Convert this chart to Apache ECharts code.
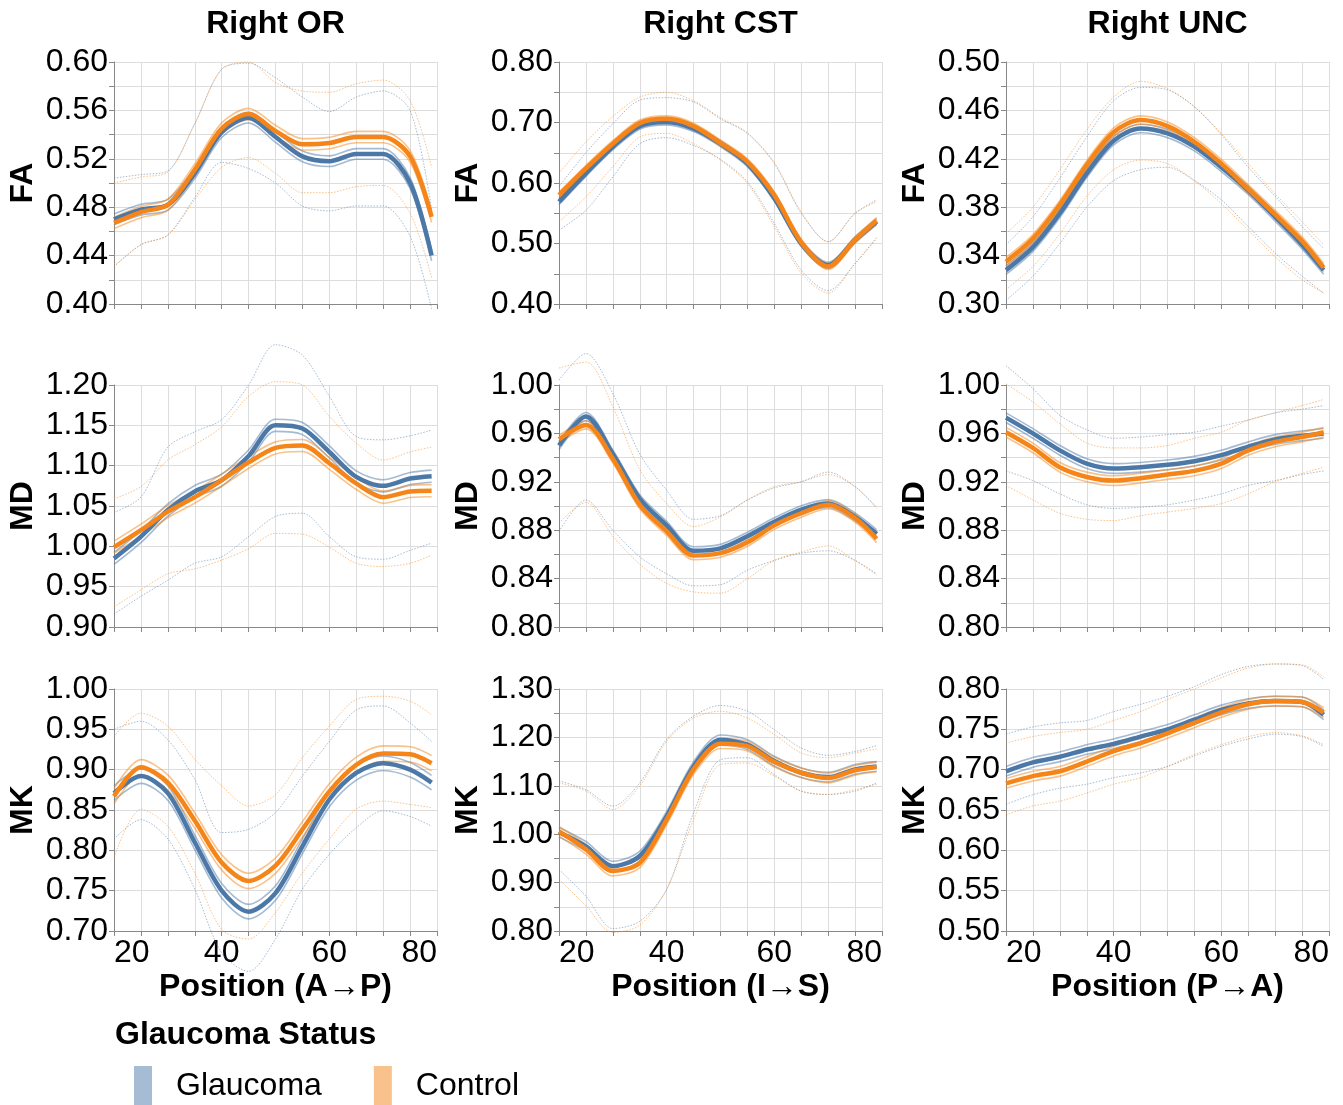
<!DOCTYPE html>
<html><head><meta charset="utf-8">
<script src="https://cdn.jsdelivr.net/npm/echarts@6/dist/echarts.min.js"></script>
<style>html,body{margin:0;padding:0;background:#fff}#c{width:1343px;height:1105px}</style>
</head><body><div id="c"></div>
<script>
// ---------- data ----------
const positions = [20, 25, 30, 35, 40, 45, 50, 55, 60, 65, 70, 75, 79];
const bundles = ['Right OR', 'Right CST', 'Right UNC'];
const metrics = ['FA', 'MD', 'MK'];
const xTitles = ['Position (A\u2192P)', 'Position (I\u2192S)', 'Position (P\u2192A)'];
const groups = ['Glaucoma', 'Control'];

// y axis per panel (row-major: FA OR, FA CST, FA UNC, MD OR, ...)
const yMin = [0.40, 0.40, 0.30, 0.90, 0.80, 0.80, 0.70, 0.80, 0.50];
const yMax = [0.60, 0.80, 0.50, 1.20, 1.00, 1.00, 1.00, 1.30, 0.80];
const yLabelStep = [0.04, 0.10, 0.04, 0.05, 0.04, 0.04, 0.05, 0.10, 0.05];
const yGridSplit = [2, 2, 2, 1, 2, 2, 1, 2, 1];
const xTickLabels = [20, 40, 60, 80];

// standard-error half widths per panel
const seGlaucoma = [0.0044, 0.005, 0.0035, 0.0075, 0.0033, 0.004, 0.009, 0.010, 0.006];
const seControl  = [0.0047, 0.005, 0.0035, 0.0075, 0.0033, 0.004, 0.0095, 0.010, 0.006];

// FA, Right OR
const faOR_G = [0.470, 0.478, 0.482, 0.508, 0.542, 0.554, 0.538, 0.522, 0.518, 0.524, 0.524, 0.500, 0.440];
const faOR_C = [0.467, 0.476, 0.482, 0.511, 0.545, 0.557, 0.543, 0.532, 0.533, 0.538, 0.538, 0.522, 0.472];
const faOR_G_hi = [0.504, 0.507, 0.510, 0.549, 0.594, 0.599, 0.587, 0.571, 0.559, 0.571, 0.576, 0.560, 0.478];
const faOR_G_lo = [0.431, 0.449, 0.457, 0.488, 0.517, 0.512, 0.500, 0.481, 0.477, 0.481, 0.481, 0.456, 0.396];
const faOR_C_hi = [0.500, 0.505, 0.509, 0.549, 0.594, 0.600, 0.583, 0.576, 0.575, 0.582, 0.585, 0.568, 0.513];
const faOR_C_lo = [0.431, 0.449, 0.457, 0.486, 0.513, 0.521, 0.508, 0.492, 0.492, 0.497, 0.498, 0.475, 0.422];
// FA, Right CST
const faCST_G = [0.569, 0.616, 0.660, 0.694, 0.701, 0.690, 0.665, 0.632, 0.575, 0.500, 0.464, 0.506, 0.536];
const faCST_C = [0.580, 0.624, 0.665, 0.699, 0.706, 0.694, 0.666, 0.635, 0.580, 0.502, 0.462, 0.506, 0.538];
const faCST_G_hi = [0.594, 0.650, 0.698, 0.737, 0.741, 0.734, 0.706, 0.682, 0.632, 0.550, 0.503, 0.550, 0.572];
const faCST_G_lo = [0.522, 0.555, 0.610, 0.665, 0.675, 0.662, 0.639, 0.602, 0.533, 0.456, 0.422, 0.467, 0.510];
const faCST_C_hi = [0.616, 0.668, 0.710, 0.742, 0.750, 0.736, 0.708, 0.683, 0.634, 0.552, 0.503, 0.550, 0.569];
const faCST_C_lo = [0.536, 0.577, 0.627, 0.676, 0.682, 0.665, 0.638, 0.599, 0.528, 0.451, 0.418, 0.467, 0.508];
// FA, Right UNC
const faUNC_G = [0.328, 0.347, 0.375, 0.408, 0.435, 0.445, 0.441, 0.430, 0.413, 0.394, 0.372, 0.349, 0.328];
const faUNC_C = [0.335, 0.354, 0.382, 0.415, 0.442, 0.452, 0.447, 0.434, 0.416, 0.395, 0.374, 0.352, 0.330];
const faUNC_G_hi = [0.349, 0.372, 0.404, 0.438, 0.468, 0.479, 0.477, 0.463, 0.440, 0.413, 0.389, 0.364, 0.346];
const faUNC_G_lo = [0.303, 0.323, 0.350, 0.380, 0.402, 0.411, 0.413, 0.402, 0.386, 0.364, 0.342, 0.323, 0.309];
const faUNC_C_hi = [0.358, 0.380, 0.411, 0.444, 0.471, 0.484, 0.478, 0.463, 0.441, 0.416, 0.391, 0.368, 0.349];
const faUNC_C_lo = [0.312, 0.331, 0.358, 0.389, 0.411, 0.419, 0.416, 0.402, 0.383, 0.361, 0.339, 0.320, 0.309];
// MD, Right OR
const mdOR_G = [0.985, 1.012, 1.045, 1.068, 1.082, 1.112, 1.150, 1.146, 1.117, 1.086, 1.075, 1.084, 1.087];
const mdOR_C = [0.999, 1.020, 1.043, 1.061, 1.082, 1.104, 1.122, 1.125, 1.103, 1.078, 1.061, 1.068, 1.069];
const mdOR_G_hi = [1.042, 1.061, 1.123, 1.142, 1.157, 1.200, 1.250, 1.237, 1.186, 1.136, 1.132, 1.137, 1.144];
const mdOR_G_lo = [0.916, 0.938, 0.958, 0.979, 0.987, 1.012, 1.037, 1.041, 1.012, 0.987, 0.984, 0.995, 1.004];
const mdOR_C_hi = [1.059, 1.074, 1.107, 1.126, 1.148, 1.186, 1.204, 1.200, 1.161, 1.128, 1.107, 1.117, 1.123];
const mdOR_C_lo = [0.925, 0.946, 0.966, 0.972, 0.983, 0.997, 1.016, 1.015, 0.999, 0.979, 0.975, 0.979, 0.989];
// MD, Right CST
const mdCST_G = [0.950, 0.974, 0.943, 0.906, 0.884, 0.863, 0.865, 0.875, 0.887, 0.897, 0.902, 0.891, 0.877];
const mdCST_C = [0.955, 0.967, 0.939, 0.901, 0.879, 0.859, 0.861, 0.870, 0.884, 0.894, 0.901, 0.890, 0.873];
const mdCST_G_hi = [1.004, 1.026, 0.993, 0.943, 0.913, 0.889, 0.892, 0.905, 0.915, 0.920, 0.928, 0.916, 0.899];
const mdCST_G_lo = [0.879, 0.905, 0.880, 0.858, 0.844, 0.834, 0.835, 0.847, 0.855, 0.861, 0.863, 0.855, 0.844];
const mdCST_C_hi = [1.014, 1.019, 0.982, 0.930, 0.902, 0.883, 0.891, 0.905, 0.916, 0.920, 0.926, 0.916, 0.898];
const mdCST_C_lo = [0.886, 0.903, 0.875, 0.852, 0.836, 0.829, 0.828, 0.840, 0.855, 0.862, 0.867, 0.855, 0.843];
// MD, Right UNC
const mdUNC_G = [0.973, 0.960, 0.946, 0.935, 0.931, 0.932, 0.934, 0.937, 0.942, 0.949, 0.955, 0.958, 0.960];
const mdUNC_C = [0.961, 0.948, 0.932, 0.924, 0.921, 0.923, 0.926, 0.929, 0.935, 0.946, 0.953, 0.957, 0.961];
const mdUNC_G_hi = [1.016, 0.997, 0.975, 0.963, 0.956, 0.957, 0.959, 0.961, 0.966, 0.971, 0.977, 0.980, 0.983];
const mdUNC_G_lo = [0.929, 0.921, 0.910, 0.901, 0.898, 0.899, 0.901, 0.905, 0.910, 0.917, 0.921, 0.926, 0.929];
const mdUNC_C_hi = [1.001, 0.986, 0.968, 0.952, 0.948, 0.948, 0.950, 0.956, 0.961, 0.971, 0.977, 0.983, 0.988];
const mdUNC_C_lo = [0.917, 0.905, 0.894, 0.889, 0.888, 0.892, 0.895, 0.898, 0.902, 0.910, 0.920, 0.927, 0.932];
// MK, Right OR
const mkOR_G = [0.871, 0.892, 0.871, 0.810, 0.750, 0.724, 0.747, 0.805, 0.863, 0.896, 0.908, 0.900, 0.884];
const mkOR_C = [0.867, 0.903, 0.884, 0.837, 0.785, 0.762, 0.781, 0.826, 0.873, 0.906, 0.920, 0.919, 0.908];
const mkOR_G_hi = [0.950, 0.960, 0.937, 0.888, 0.822, 0.826, 0.847, 0.892, 0.935, 0.974, 0.979, 0.958, 0.935];
const mkOR_G_lo = [0.814, 0.838, 0.814, 0.752, 0.673, 0.650, 0.690, 0.752, 0.795, 0.828, 0.849, 0.842, 0.830];
const mkOR_C_hi = [0.941, 0.970, 0.954, 0.913, 0.880, 0.855, 0.869, 0.915, 0.954, 0.987, 0.991, 0.985, 0.968];
const mkOR_C_lo = [0.791, 0.851, 0.830, 0.772, 0.702, 0.690, 0.723, 0.772, 0.814, 0.851, 0.861, 0.857, 0.853];
// MK, Right CST
const mkCST_G = [1.004, 0.975, 0.934, 0.955, 1.037, 1.140, 1.195, 1.185, 1.151, 1.127, 1.118, 1.134, 1.140];
const mkCST_C = [1.006, 0.969, 0.924, 0.941, 1.030, 1.134, 1.187, 1.182, 1.149, 1.127, 1.116, 1.132, 1.139];
const mkCST_G_hi = [1.110, 1.092, 1.058, 1.106, 1.196, 1.244, 1.266, 1.254, 1.216, 1.178, 1.163, 1.171, 1.183];
const mkCST_G_lo = [0.927, 0.872, 0.805, 0.820, 0.886, 1.044, 1.154, 1.158, 1.123, 1.089, 1.082, 1.089, 1.106];
const mkCST_C_hi = [1.106, 1.089, 1.051, 1.100, 1.192, 1.240, 1.254, 1.240, 1.206, 1.168, 1.158, 1.168, 1.176];
const mkCST_C_lo = [0.907, 0.852, 0.797, 0.812, 0.886, 1.030, 1.144, 1.147, 1.120, 1.089, 1.082, 1.092, 1.103];
// MK, Right UNC
const mkUNC_G = [0.698, 0.709, 0.716, 0.725, 0.732, 0.741, 0.750, 0.762, 0.774, 0.782, 0.785, 0.784, 0.768];
const mkUNC_C = [0.683, 0.692, 0.698, 0.710, 0.723, 0.733, 0.745, 0.758, 0.771, 0.781, 0.785, 0.784, 0.771];
const mkUNC_G_hi = [0.744, 0.753, 0.758, 0.761, 0.772, 0.781, 0.791, 0.803, 0.818, 0.828, 0.831, 0.829, 0.812];
const mkUNC_G_lo = [0.657, 0.669, 0.677, 0.682, 0.690, 0.696, 0.704, 0.717, 0.729, 0.738, 0.744, 0.741, 0.729];
const mkUNC_C_hi = [0.733, 0.741, 0.746, 0.750, 0.761, 0.772, 0.787, 0.800, 0.814, 0.826, 0.831, 0.830, 0.815];
const mkUNC_C_lo = [0.644, 0.655, 0.661, 0.671, 0.682, 0.690, 0.704, 0.719, 0.731, 0.741, 0.746, 0.742, 0.731];

const panelData = [
  [[faOR_G, faOR_G_hi, faOR_G_lo], [faOR_C, faOR_C_hi, faOR_C_lo]],
  [[faCST_G, faCST_G_hi, faCST_G_lo], [faCST_C, faCST_C_hi, faCST_C_lo]],
  [[faUNC_G, faUNC_G_hi, faUNC_G_lo], [faUNC_C, faUNC_C_hi, faUNC_C_lo]],
  [[mdOR_G, mdOR_G_hi, mdOR_G_lo], [mdOR_C, mdOR_C_hi, mdOR_C_lo]],
  [[mdCST_G, mdCST_G_hi, mdCST_G_lo], [mdCST_C, mdCST_C_hi, mdCST_C_lo]],
  [[mdUNC_G, mdUNC_G_hi, mdUNC_G_lo], [mdUNC_C, mdUNC_C_hi, mdUNC_C_lo]],
  [[mkOR_G, mkOR_G_hi, mkOR_G_lo], [mkOR_C, mkOR_C_hi, mkOR_C_lo]],
  [[mkCST_G, mkCST_G_hi, mkCST_G_lo], [mkCST_C, mkCST_C_hi, mkCST_C_lo]],
  [[mkUNC_G, mkUNC_G_hi, mkUNC_G_lo], [mkUNC_C, mkUNC_C_hi, mkUNC_C_lo]]
];

// ---------- styling / layout ----------
const FONT = '"Liberation Sans", Arial, Helvetica, sans-serif';
const colors = ['#4c78a8', '#f58518'];
const legendColors = ['#a6bcd5', '#f9c28c'];
const colLeft = [114, 559, 1006];
const rowTop = [62, 385, 689];
const plotW = 323, plotH = 242;
const gridColor = '#dddddd';
const axisColor = '#888888';

const grids = [], xAxes = [], yAxes = [], series = [];
for (let r = 0; r < 3; r++) {
  for (let c = 0; c < 3; c++) {
    const k = r * 3 + c;
    grids.push({left: colLeft[c], top: rowTop[r], width: plotW, height: plotH, containLabel: false});
    xAxes.push({
      type: 'value', gridIndex: k, min: 20, max: 80, interval: 20,
      axisLine: {show: true, onZero: false, lineStyle: {color: axisColor, width: 1}},
      axisTick: {show: true, length: 5, lineStyle: {color: axisColor}},
      minorTick: {show: true, splitNumber: 4, length: 5, lineStyle: {color: axisColor}},
      splitLine: {show: true, lineStyle: {color: gridColor, width: 1}},
      minorSplitLine: {show: true, lineStyle: {color: gridColor, width: 1}},
      axisLabel: {
        show: r === 2, fontSize: 32, fontFamily: FONT, color: '#000', margin: 6,
        alignMinLabel: 'left', alignMaxLabel: 'right',
        formatter: v => (xTickLabels.indexOf(Math.round(v)) >= 0 ? String(Math.round(v)) : '')
      },
      name: r === 2 ? xTitles[c] : '', nameLocation: 'middle', nameGap: 40,
      nameTextStyle: {fontSize: 32, fontWeight: 'bold', fontFamily: FONT, color: '#000'}
    });
    yAxes.push({
      type: 'value', gridIndex: k, min: yMin[k], max: yMax[k], interval: yLabelStep[k],
      axisLine: {show: true, lineStyle: {color: axisColor, width: 1}},
      axisTick: {show: true, length: 5, lineStyle: {color: axisColor}},
      minorTick: {show: yGridSplit[k] > 1, splitNumber: yGridSplit[k], length: 5, lineStyle: {color: axisColor}},
      splitLine: {show: true, lineStyle: {color: gridColor, width: 1}},
      minorSplitLine: {show: yGridSplit[k] > 1, lineStyle: {color: gridColor, width: 1}},
      axisLabel: {fontSize: 32, fontFamily: FONT, color: '#000', margin: 6, formatter: v => v.toFixed(2)},
      name: metrics[r], nameLocation: 'middle', nameGap: 75,
      nameTextStyle: {fontSize: 32, fontWeight: 'bold', fontFamily: FONT, color: '#000'}
    });
    const se = [seGlaucoma[k], seControl[k]];
    for (let g = 0; g < 2; g++) {
      const [mean, hi, lo] = panelData[k][g];
      const base = {
        type: 'line', name: groups[g], xAxisIndex: k, yAxisIndex: k,
        showSymbol: false, symbol: 'none', smooth: 0.3, clip: false, silent: true,
        animation: false, color: colors[g]
      };
      [hi, lo].forEach(arr => series.push(Object.assign({}, base, {
        z: 2,
        data: positions.map((p, i) => [p, arr[i]]),
        lineStyle: {color: colors[g], width: 1, type: [1.5, 1.5], opacity: 0.5}
      })));
      [1, -1].forEach(sgn => series.push(Object.assign({}, base, {
        z: 3,
        data: positions.map((p, i) => [p, mean[i] + sgn * se[g]]),
        lineStyle: {color: colors[g], width: 1.6, opacity: 0.5}
      })));
      series.push(Object.assign({}, base, {
        z: 4,
        data: positions.map((p, i) => [p, mean[i]]),
        lineStyle: {color: colors[g], width: 4.5, opacity: 1}
      }));
    }
  }
}

const graphics = bundles.map((b, c) => ({
  type: 'text', x: colLeft[c] + plotW / 2, y: 24,
  style: {text: b, textAlign: 'center', textVerticalAlign: 'middle',
          font: 'bold 32px ' + FONT, fill: '#000'}
}));
graphics.push({
  type: 'text', x: 115, y: 1035,
  style: {text: 'Glaucoma Status', textAlign: 'left', textVerticalAlign: 'middle',
          font: 'bold 32px ' + FONT, fill: '#000'}
});

const chart = echarts.init(document.getElementById('c'), null, {renderer: 'canvas'});
chart.setOption({
  animation: false,
  backgroundColor: '#ffffff',
  grid: grids, xAxis: xAxes, yAxis: yAxes, series: series,
  graphic: graphics,
  legend: {
    left: 134, top: 1066, padding: 0, orient: 'horizontal', icon: 'rect',
    itemWidth: 18, itemHeight: 40, itemGap: 52,
    selectedMode: false,
    data: groups.map((g, i) => ({name: g, itemStyle: {color: legendColors[i], opacity: 1}, lineStyle: {opacity: 0}})),
    textStyle: {fontSize: 32, fontFamily: FONT, color: '#000', padding: [0, 0, 0, 19]}
  }
});
</script></body></html>
